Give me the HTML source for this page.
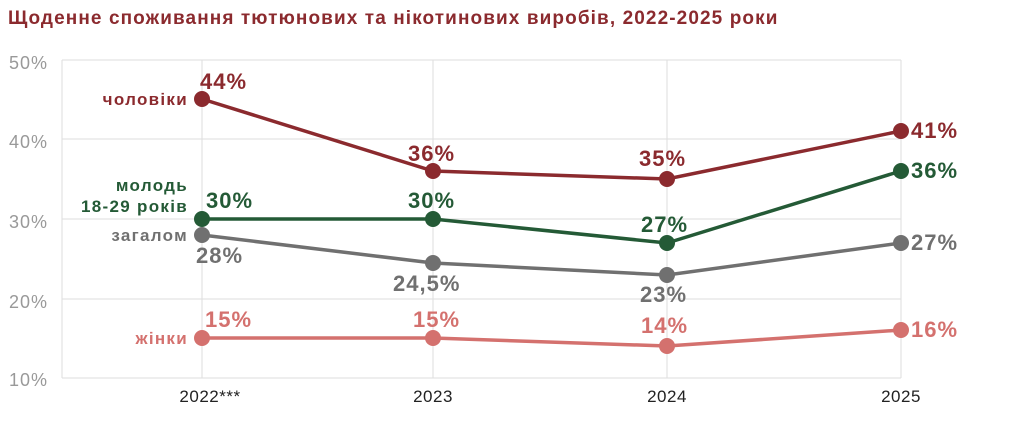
<!DOCTYPE html>
<html><head><meta charset="utf-8"><style>
body{margin:0;background:#fff;width:1024px;height:443px;overflow:hidden}
svg{display:block}
text{font-family:"Liberation Sans",sans-serif}
.b{font-weight:bold}
</style></head><body>
<svg width="1024" height="443" viewBox="0 0 1024 443">
<text x="8" y="24" class="b" font-size="19" letter-spacing="1.1" fill="#8b2a2e">Щоденне споживання тютюнових та нікотинових виробів, 2022-2025 роки</text>
<g stroke="#ddd" stroke-width="1">
<line x1="62" y1="60" x2="901" y2="60"/><line x1="62" y1="139" x2="901" y2="139"/>
<line x1="62" y1="219" x2="901" y2="219"/><line x1="62" y1="299" x2="901" y2="299"/>
<line x1="62" y1="378" x2="901" y2="378"/>
<line x1="62" y1="60" x2="62" y2="378"/><line x1="202" y1="60" x2="202" y2="378"/>
<line x1="433" y1="60" x2="433" y2="378"/><line x1="667" y1="60" x2="667" y2="378"/>
<line x1="901" y1="60" x2="901" y2="378"/>
</g>
<g font-size="18" letter-spacing="1" fill="#999" text-anchor="end">
<text x="48" y="69">50%</text><text x="48" y="148">40%</text><text x="48" y="228">30%</text><text x="48" y="308">20%</text><text x="48" y="386">10%</text>
</g>
<g font-size="17" letter-spacing="0.5" fill="#222" text-anchor="middle">
<text x="210" y="402">2022***</text><text x="433" y="402">2023</text><text x="667" y="402">2024</text><text x="901" y="402">2025</text>
</g>
<g fill="none" stroke-width="3.5">
<polyline stroke="#8b2a2e" points="202,99 433,171 667,179 901,131"/>
<polyline stroke="#245a36" points="202,219 433,219 667,243 901,171"/>
<polyline stroke="#707070" points="202,235 433,263 667,275 901,243"/>
<polyline stroke="#d4716e" points="202,338 433,338 667,346 901,330"/>
</g>
<g fill="#8b2a2e"><circle cx="202" cy="99" r="8"/><circle cx="433" cy="171" r="8"/><circle cx="667" cy="179" r="8"/><circle cx="901" cy="131" r="8"/></g>
<g fill="#245a36"><circle cx="202" cy="219" r="8"/><circle cx="433" cy="219" r="8"/><circle cx="667" cy="243" r="8"/><circle cx="901" cy="171" r="8"/></g>
<g fill="#707070"><circle cx="202" cy="235" r="8"/><circle cx="433" cy="263" r="8"/><circle cx="667" cy="275" r="8"/><circle cx="901" cy="243" r="8"/></g>
<g fill="#d4716e"><circle cx="202" cy="338" r="8"/><circle cx="433" cy="338" r="8"/><circle cx="667" cy="346" r="8"/><circle cx="901" cy="330" r="8"/></g>
<g class="b" font-size="22" letter-spacing="1">
<g fill="#8b2a2e"><text x="200" y="89">44%</text><text x="408" y="161">36%</text><text x="639" y="166">35%</text><text x="911" y="138">41%</text></g>
<g fill="#245a36"><text x="206" y="208">30%</text><text x="408" y="208">30%</text><text x="641" y="232">27%</text><text x="911" y="178">36%</text></g>
<g fill="#707070"><text x="196" y="263">28%</text><text x="393" y="291">24,5%</text><text x="640" y="302">23%</text><text x="911" y="250">27%</text></g>
<g fill="#d4716e"><text x="205" y="327">15%</text><text x="413" y="327">15%</text><text x="641" y="333">14%</text><text x="911" y="337">16%</text></g>
</g>
<g class="b" font-size="17" letter-spacing="1.3" text-anchor="end">
<text x="188" y="105" fill="#8b2a2e">чоловіки</text>
<text x="188" y="191" fill="#245a36">молодь</text>
<text x="188" y="212" fill="#245a36">18-29 років</text>
<text x="188" y="241" fill="#707070">загалом</text>
<text x="188" y="344" fill="#d4716e">жінки</text>
</g>
</svg>
</body></html>
